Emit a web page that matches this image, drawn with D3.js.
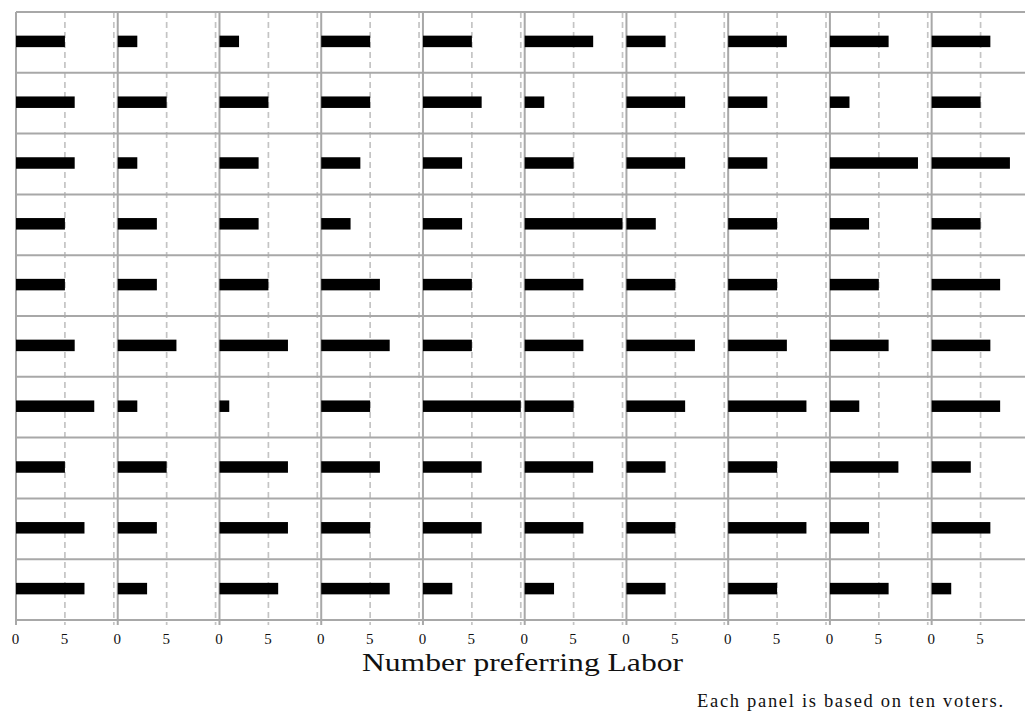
<!DOCTYPE html>
<html>
<head>
<meta charset="utf-8">
<script src="https://cdn.jsdelivr.net/npm/d3@7"></script>
<style>
  body { margin: 0; background: #fff; }
  svg { display: block; }
  text { font-family: "Palatino Linotype", "Book Antiqua", Palatino, "Liberation Serif", "DejaVu Serif", serif; fill: #111; }
</style>
</head>
<body>
<div id="chart"></div>
<script>
// number preferring Labor in each panel (10 voters per panel), read row by row
const row1  = [5, 2, 2, 5, 5, 7, 4, 6, 6, 6];
const row2  = [6, 5, 5, 5, 6, 2, 6, 4, 2, 5];
const row3  = [6, 2, 4, 4, 4, 5, 6, 4, 9, 8];
const row4  = [5, 4, 4, 3, 4, 10, 3, 5, 4, 5];
const row5  = [5, 4, 5, 6, 5, 6, 5, 5, 5, 7];
const row6  = [6, 6, 7, 7, 5, 6, 7, 6, 6, 6];
const row7  = [8, 2, 1, 5, 10, 5, 6, 8, 3, 7];
const row8  = [5, 5, 7, 6, 6, 7, 4, 5, 7, 4];
const row9  = [7, 4, 7, 5, 6, 6, 5, 8, 4, 6];
const row10 = [7, 3, 6, 7, 3, 3, 4, 5, 6, 2];
const rows = [row1, row2, row3, row4, row5, row6, row7, row8, row9, row10];

const gridValues = [5, 10];      // dashed reference lines in each panel
const tickValues = [0, 5, 10];
const xLabel = "Number preferring Labor";
const note = "Each panel is based on ten voters.";

const W = 1025, H = 713;
const mLeft = 16, mTop = 12, mBottom = 620;
const panelW = 101.74;

const svg = d3.select("#chart").append("svg")
  .attr("width", W).attr("height", H);

// outer scales: panel columns and rows
const col = d3.scaleBand().domain(d3.range(10)).range([mLeft, mLeft + 10 * panelW]);
const row = d3.scaleBand().domain(d3.range(10)).range([mTop, mBottom]);
// inner scale: voters within a panel
const x = d3.scaleLinear().domain([0, 10.4]).range([0, panelW]);

const data = [];
rows.forEach((r, i) => r.forEach((v, j) => data.push({row: i, col: j, value: v})));

// dashed lines at 5 and 10
const dashed = [];
d3.range(10).forEach(c => gridValues.forEach(v => dashed.push(col(c) + x(v))));
svg.append("g").selectAll("line").data(dashed).enter().append("line")
  .attr("x1", d => d).attr("x2", d => d)
  .attr("y1", mTop).attr("y2", mBottom + 5)
  .attr("stroke", "#c4c4c4").attr("stroke-width", 1.7)
  .attr("stroke-dasharray", "6,4");

// solid panel edges at 0
svg.append("g").selectAll("line").data(d3.range(10)).enter().append("line")
  .attr("x1", d => col(d) + x(0)).attr("x2", d => col(d) + x(0))
  .attr("y1", mTop).attr("y2", mBottom + 5)
  .attr("stroke", "#a8a8a8").attr("stroke-width", 2);

// horizontal row separators
svg.append("g").selectAll("line").data(d3.range(11)).enter().append("line")
  .attr("x1", mLeft).attr("x2", W)
  .attr("y1", d => mTop + d * row.bandwidth()).attr("y2", d => mTop + d * row.bandwidth())
  .attr("stroke", "#a8a8a8").attr("stroke-width", 2);

// bars
const barH = 11.5;
svg.append("g").selectAll("rect").data(data).enter().append("rect")
  .attr("x", d => col(d.col) + x(0))
  .attr("y", d => row(d.row) + row.bandwidth() / 2 - barH / 2 - 1)
  .attr("width", d => x(d.value) - x(0))
  .attr("height", barH)
  .attr("fill", "#000");

// bottom axis per panel, labels at 0 and 5 only
d3.range(10).forEach(c => {
  const g = svg.append("g")
    .attr("transform", "translate(" + col(c) + "," + (mBottom + 5) + ")")
    .call(d3.axisBottom(x).tickValues(tickValues).tickSize(0).tickPadding(8)
      .tickFormat(d => d === 10 ? "" : d));
  g.select(".domain").remove();
  g.attr("font-family", null);
  g.selectAll("text").attr("font-size", 15).attr("fill", "#111").attr("dx", "-1");
});

svg.append("text")
  .attr("x", 362).attr("y", 671)
  .attr("font-size", 26)
  .attr("textLength", 321).attr("lengthAdjust", "spacingAndGlyphs")
  .text(xLabel);

svg.append("text")
  .attr("x", 697).attr("y", 707)
  .attr("font-size", 18.5)
  .attr("textLength", 306).attr("lengthAdjust", "spacing")
  .text(note);
</script>
</body>
</html>
